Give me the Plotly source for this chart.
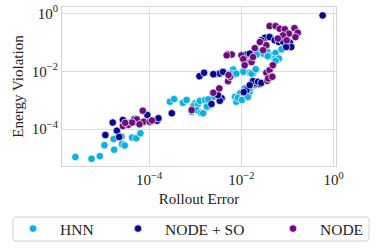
import numpy as np
import plotly.graph_objects as go

# Values, as log10 of the plotted quantities
hnn_log_err = [-5.60, -5.25, -5.07, -4.97, -4.76, -4.77, -4.60, -4.59, -4.53, -4.37, -4.28, -4.19,
               -3.55, -3.46, -3.27, -3.19, -3.08, -3.01, -3.04, -2.94, -2.90, -2.79, -2.72, -2.65,
               -2.97, -2.88, -2.83, -2.75, -2.61, -2.72,
               -2.14, -2.11, -2.03, -1.96, -1.89, -1.93, -1.82, -1.82, -1.71, -2.08, -1.99, -1.86,
               -2.27, -2.18, -2.19, -1.96, -1.82, -1.69, -1.75, -1.96, -1.78, -1.69, -2.21, -2.11,
               -1.60, -1.53, -1.44, -1.35, -1.26, -1.13, -1.28, -1.19, -1.67, -1.26, -1.43]
hnn_log_viol = [-4.96, -5.02, -4.93, -4.55, -4.71, -4.34, -4.25, -4.51, -4.56, -4.29, -4.31, -4.14,
                -3.05, -2.96, -3.09, -2.99, -3.40, -3.11, -3.20, -3.13, -3.02, -2.99, -3.22, -3.13,
                -3.34, -3.43, -3.45, -3.22, -2.88, -2.97,
                -2.88, -3.05, -2.76, -2.86, -2.76, -2.59, -2.71, -2.59, -2.48, -2.92, -2.99, -2.89,
                -2.08, -1.94, -2.13, -1.99, -2.05, -1.96, -2.08, -2.02, -2.08, -1.93, -2.08, -2.08,
                -1.33, -1.39, -1.33, -1.45, -1.37, -1.24, -1.58, -1.56, -1.42, -1.64, -1.48]

so_log_err = [-4.95, -4.79, -4.70, -4.57, -4.32, -4.04, -3.98, -3.83, -4.65, -4.43, -3.80, -3.51,
              -2.91, -2.81, -2.57, -2.47, -2.40, -2.61, -2.65, -2.43, -2.47, -1.78, -1.67, -1.60,
              -1.89, -1.75, -1.64, -1.82, -1.95, -0.24, -1.49, -1.39, -1.28, -1.19, -1.10, -0.95,
              -0.92, -1.03, -1.57, -1.89, -1.82, -1.57, -2.51, -4.27]
so_log_viol = [-4.20, -3.77, -4.05, -3.68, -3.66, -3.51, -3.74, -3.71, -4.27, -3.79, -3.62, -3.45,
               -2.17, -2.05, -2.10, -2.08, -2.02, -2.10, -3.13, -2.93, -3.02, -2.42, -2.42, -2.44,
               -2.65, -2.34, -2.36, -2.48, -2.72, -0.07, -0.84, -0.82, -0.93, -0.99, -0.97, -1.01,
               -1.16, -1.16, -0.93, -1.42, -1.39, -2.40, -2.82, -3.74]

node_log_err = [-4.57, -4.45, -4.27, -4.14, -4.12, -3.99, -4.21, -4.37, -4.52, -3.94,
                -2.29, -2.00, -1.88, -2.29, -2.61, -2.48, -2.25, -1.46, -1.39, -1.35, -1.44, -1.32,
                -1.93, -1.78, -1.39, -1.26, -1.17, -1.06, -0.97, -0.85, -0.78, -0.83, -1.10, -1.21,
                -1.60, -1.46, -1.53, -1.71, -2.21, -1.96, -1.75, -1.93, -1.42, -1.33, -2.28, -3.08,
                -2.32, -1.02]
node_log_viol = [-3.89, -3.85, -3.66, -3.36, -3.74, -3.74, -3.83, -3.77, -3.78, -3.70,
                 -1.41, -1.45, -1.68, -2.34, -2.74, -2.59, -2.19, -2.05, -1.96, -2.17, -2.33, -1.79,
                 -1.68, -1.68, -0.44, -0.44, -0.53, -0.55, -0.70, -0.51, -0.67, -0.82, -0.76, -0.87,
                 -0.99, -1.10, -1.27, -1.20, -1.42, -1.58, -1.51, -1.79, -2.25, -2.19, -2.13, -3.34,
                 -1.45, -0.93]

series_names = ["HNN", "NODE + SO", "NODE"]
series_colors = ["#0bb0e3", "#06068f", "#6c0c7c"]
tick_vals = [1e-4, 1e-2, 1e0]
tick_text = ["10<sup>\u22124</sup>", "10<sup>\u22122</sup>", "10<sup>0</sup>"]

FONT = "Liberation Serif"
W, H = 381, 249
L, R, T, B = 62, 45, 7, 83
pw, ph = W - L - R, H - T - B

fig = go.Figure()
data = [(hnn_log_err, hnn_log_viol), (so_log_err, so_log_viol), (node_log_err, node_log_viol)]
legend_ids = ["legend", "legend2", "legend3"]
for (xe, ye), name, col, lg in zip(data, series_names, series_colors, legend_ids):
    fig.add_trace(go.Scatter(
        x=10 ** np.array(xe), y=10 ** np.array(ye), mode="markers", name=name,
        marker=dict(color=col, size=7.5, line=dict(color="white", width=0.7)),
        legend=lg, showlegend=True,
    ))

axis_common = dict(
    type="log", showgrid=True, gridcolor="#dcdcdc", automargin=False,
    gridwidth=1, showline=True, mirror=True, linecolor="#d5d5d5", linewidth=1,
    zeroline=False, ticks="", tickfont=dict(family=FONT, size=15, color="#222"),
    tickmode="array", tickvals=tick_vals, ticktext=tick_text,
)
fig.update_xaxes(**axis_common, range=[-5.89, 0.05],
                 title=dict(text="Rollout Error", font=dict(family=FONT, size=15, color="#222"), standoff=6))
fig.update_yaxes(**axis_common, range=[-5.27, 0.22],
                 title=dict(text="Energy Violation", font=dict(family=FONT, size=15, color="#222"), standoff=4))

leg_common = dict(orientation="h", yanchor="middle", xanchor="left", bgcolor="rgba(0,0,0,0)",
                  xref="container", yref="container", visible=True,
                  borderwidth=0, itemwidth=44, font=dict(family=FONT, size=15.5, color="#222"))
marker_px = [33, 138, 293]
for lg, mx in zip(legend_ids, marker_px):
    fig.update_layout(**{lg: dict(leg_common, x=(mx - 27) / W, y=1 - 229 / H)})

# rounded legend frame (paper coordinates)
def px2paper_x(px):
    return (px - L) / pw

def px2paper_y(py):
    return (H - B - py) / ph

x0, x1 = px2paper_x(13), px2paper_x(369)
y0, y1 = px2paper_y(241), px2paper_y(217)
rx, ry = 3 / pw, 3 / ph
path = (f"M{x0+rx},{y0} L{x1-rx},{y0} Q{x1},{y0} {x1},{y0+ry} L{x1},{y1-ry} Q{x1},{y1} {x1-rx},{y1} "
        f"L{x0+rx},{y1} Q{x0},{y1} {x0},{y1-ry} L{x0},{y0+ry} Q{x0},{y0} {x0+rx},{y0} Z")
fig.add_shape(type="path", path=path, xref="paper", yref="paper",
              line=dict(color="#d0d0d0", width=1), fillcolor="rgba(255,255,255,0)")

fig.update_layout(
    width=W, height=H, margin=dict(l=L, r=R, t=T, b=B, autoexpand=False),
    plot_bgcolor="white", paper_bgcolor="white", font=dict(family=FONT), showlegend=True,
)
fig.write_html("out.html", config={"displayModeBar": False},
               post_script="document.body.style.margin='0';")
